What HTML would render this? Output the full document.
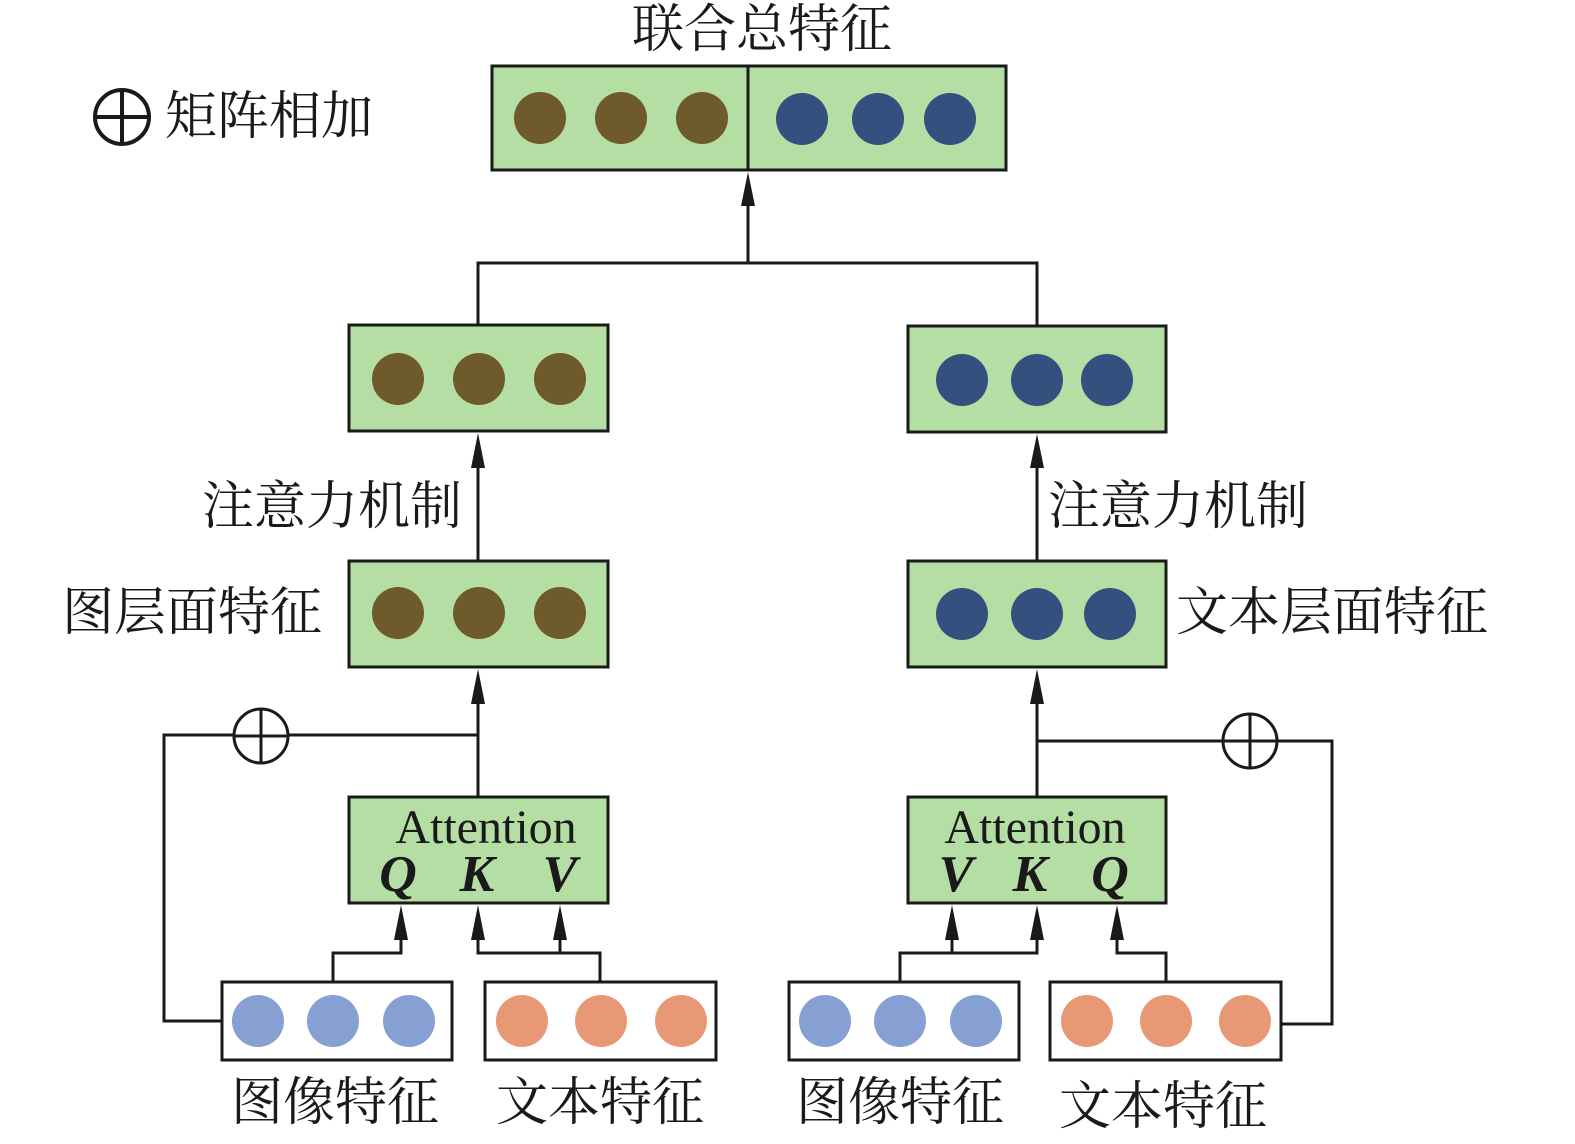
<!DOCTYPE html>
<html><head><meta charset="utf-8"><style>
html,body{margin:0;padding:0;background:#fff;}
svg{display:block}
.cj{font-family:"Liberation Serif","Noto Serif CJK SC",serif;font-size:52px;fill:#1a1a1a}
.at{font-family:"Liberation Serif",serif;font-size:48px;fill:#1a1a1a}
.q{font-family:"Liberation Serif",serif;font-size:52px;font-weight:bold;font-style:italic;fill:#1a1a1a}
</style></head><body>
<svg width="1575" height="1144" viewBox="0 0 1575 1144" xmlns="http://www.w3.org/2000/svg">
<defs><marker id="ar" markerWidth="10" markerHeight="14" refX="5" refY="0" orient="auto-start-reverse" markerUnits="userSpaceOnUse" viewBox="0 0 10 14"><path d="M0,14 L5,0 L10,14 Z" fill="#1a1a1a"/></marker></defs>
<g stroke="#1a1a1a" stroke-width="3" fill="none">
<!-- top -->
<rect x="492" y="66" width="514" height="104" fill="#b5dea4"/>
<line x1="748" y1="66" x2="748" y2="170"/>
<path d="M748,263 V206"/><path d="M741,206 L748,172 L755,206 Z" fill="#1a1a1a" stroke="none"/>
<path d="M478,325 V263 H1037 V326"/>
<!-- mid boxes -->
<rect x="349" y="325" width="259" height="106" fill="#b5dea4"/>
<rect x="908" y="326" width="258" height="106" fill="#b5dea4"/>
<rect x="349" y="561" width="259" height="106" fill="#b5dea4"/>
<rect x="908" y="561" width="258" height="106" fill="#b5dea4"/>
<path d="M478,561 V468"/><path d="M471,468 L478,433 L485,468 Z" fill="#1a1a1a" stroke="none"/>
<path d="M1037,561 V468"/><path d="M1030,468 L1037,434 L1044,468 Z" fill="#1a1a1a" stroke="none"/>
<path d="M478,797 V704"/><path d="M471,704 L478,669 L485,704 Z" fill="#1a1a1a" stroke="none"/>
<path d="M1037,797 V704"/><path d="M1030,704 L1037,669 L1044,704 Z" fill="#1a1a1a" stroke="none"/>
<!-- residual left -->
<path d="M478,735 H164 V1021 H222"/>
<circle cx="261" cy="736" r="27" fill="#fff"/><path d="M234,736 H288 M261,709 V763"/>
<!-- residual right -->
<path d="M1037,741 H1332 V1024 H1281"/>
<circle cx="1250" cy="741" r="27" fill="#fff"/><path d="M1223,741 H1277 M1250,714 V768"/>
<!-- attention boxes -->
<rect x="349" y="797" width="259" height="106" fill="#b5dea4"/>
<rect x="908" y="797" width="258" height="106" fill="#b5dea4"/>
<!-- bottom boxes -->
<rect x="222" y="982" width="230" height="78" fill="#fff"/>
<rect x="485" y="982" width="231" height="78" fill="#fff"/>
<rect x="789" y="982" width="230" height="78" fill="#fff"/>
<rect x="1050" y="982" width="231" height="78" fill="#fff"/>
<!-- left inputs -->
<path d="M333,982 V953 H401 V938"/>
<path d="M600,982 V953 H478 V938 M560,953 V938"/>
<!-- right inputs -->
<path d="M900,982 V953 H1037 V938 M952,953 V938"/>
<path d="M1166,982 V953 H1117 V938"/>
</g>
<g fill="#1a1a1a">
<path d="M394,940 L401,905 L408,940 Z"/><path d="M471,940 L478,905 L485,940 Z"/><path d="M553,940 L560,905 L567,940 Z"/>
<path d="M945,940 L952,905 L959,940 Z"/><path d="M1030,940 L1037,905 L1044,940 Z"/><path d="M1110,940 L1117,905 L1124,940 Z"/>
</g>
<!-- circles -->
<g fill="#6e5a2a">
<circle cx="540" cy="118" r="26"/><circle cx="621" cy="118" r="26"/><circle cx="702" cy="118" r="26"/>
<circle cx="398" cy="379" r="26"/><circle cx="479" cy="379" r="26"/><circle cx="560" cy="379" r="26"/>
<circle cx="398" cy="613" r="26"/><circle cx="479" cy="613" r="26"/><circle cx="560" cy="613" r="26"/>
</g>
<g fill="#34507e">
<circle cx="802" cy="119" r="26"/><circle cx="878" cy="119" r="26"/><circle cx="950" cy="119" r="26"/>
<circle cx="962" cy="380" r="26"/><circle cx="1037" cy="380" r="26"/><circle cx="1107" cy="380" r="26"/>
<circle cx="962" cy="614" r="26"/><circle cx="1037" cy="614" r="26"/><circle cx="1110" cy="614" r="26"/>
</g>
<g fill="#87a0d4">
<circle cx="258" cy="1021" r="26"/><circle cx="333" cy="1021" r="26"/><circle cx="409" cy="1021" r="26"/>
<circle cx="825" cy="1021" r="26"/><circle cx="900" cy="1021" r="26"/><circle cx="976" cy="1021" r="26"/>
</g>
<g fill="#e99876">
<circle cx="522" cy="1021" r="26"/><circle cx="601" cy="1021" r="26"/><circle cx="681" cy="1021" r="26"/>
<circle cx="1087" cy="1021" r="26"/><circle cx="1166" cy="1021" r="26"/><circle cx="1245" cy="1021" r="26"/>
</g>
<!-- legend -->
<g stroke="#1a1a1a" stroke-width="4" fill="none"><circle cx="122" cy="117" r="27"/><path d="M95,117 H149 M122,90 V144"/></g>
<!-- text -->
<text class="cj" x="762" y="47" text-anchor="middle">联合总特征</text>
<text class="cj" x="165" y="134">矩阵相加</text>
<text class="cj" x="462" y="524" text-anchor="end">注意力机制</text>
<text class="cj" x="1048" y="524">注意力机制</text>
<text class="cj" x="62" y="630">图层面特征</text>
<text class="cj" x="1176" y="630">文本层面特征</text>
<text class="cj" x="335" y="1120" text-anchor="middle">图像特征</text>
<text class="cj" x="600" y="1120" text-anchor="middle">文本特征</text>
<text class="cj" x="900" y="1120" text-anchor="middle">图像特征</text>
<text class="cj" x="1163" y="1124" text-anchor="middle">文本特征</text>
<text class="at" x="486" y="843" text-anchor="middle">Attention</text>
<text class="at" x="1035" y="843" text-anchor="middle">Attention</text>
<text class="q" x="398" y="891" text-anchor="middle">Q</text>
<text class="q" x="477" y="891" text-anchor="middle">K</text>
<text class="q" x="560" y="891" text-anchor="middle">V</text>
<text class="q" x="956" y="891" text-anchor="middle">V</text>
<text class="q" x="1030" y="891" text-anchor="middle">K</text>
<text class="q" x="1110" y="891" text-anchor="middle">Q</text>
</svg>
</body></html>
